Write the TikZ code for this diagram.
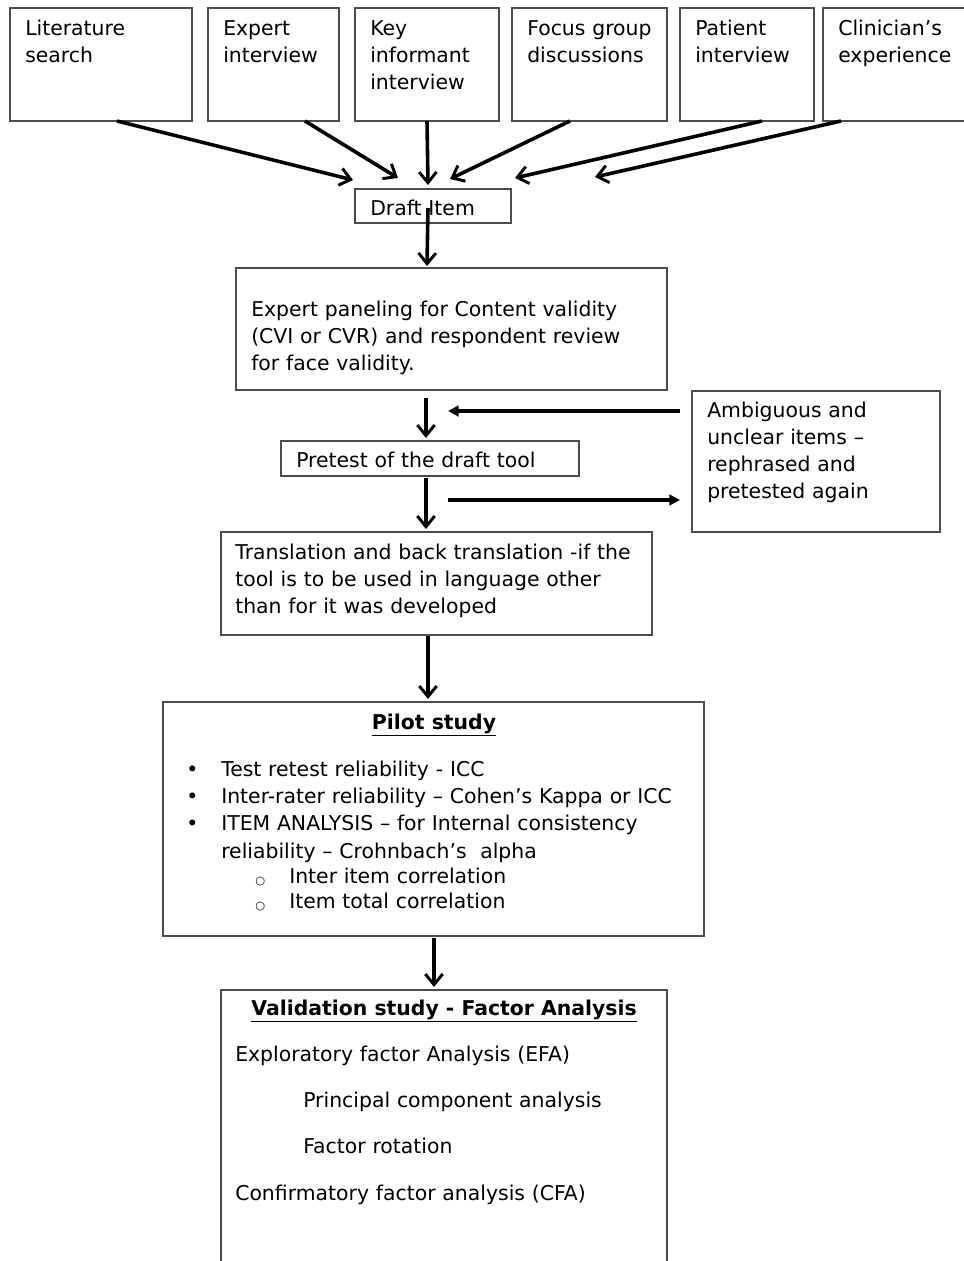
\documentclass[tikz,border=0pt]{standalone}
\usepackage{fontspec}
\setmainfont{DejaVu Sans}
\usetikzlibrary{arrows.meta,fit}
\begin{document}
\begin{tikzpicture}[x=0.75pt,y=-0.75pt,
  box/.style={draw=black!70, line width=0.8pt, inner sep=0pt},
  txt/.style={anchor=base west, inner sep=0pt, align=left, text width=#1,
              font=\fontsize{15.3}{20.25}\selectfont},
  txt/.default=500pt,
  ctxt/.style={anchor=base, inner sep=0pt, font=\fontsize{15.3}{20.25}\selectfont},
  subdot/.style={anchor=base west, inner sep=0pt, font=\fontsize{8.5}{9}\selectfont},
  flow/.style={line width=2.7pt, -{Straight Barb[length=8pt,width=13pt,line width=2.2pt]}},
  push/.style={line width=3pt, -{Triangle[length=8pt,width=8pt]}}
]
\useasboundingbox (0,0) rectangle (964,1261);
\clip (0,0) rectangle (964,1261);

% top source boxes
\node[box, fit={(10,8) (192,121)}] (lit) {};
\node[box, fit={(208,8) (339,121)}] (exp) {};
\node[box, fit={(355,8) (499,121)}] (key) {};
\node[box, fit={(512,8) (667,121)}] (foc) {};
\node[box, fit={(680,8) (814,121)}] (pat) {};
\node[box, fit={(823,8) (990,121)}] (cli) {};
\node[txt] (litT) at (25,35) {Literature\\search};
\node[txt] (expT) at (223,35) {Expert\\interview};
\node[txt] (keyT) at (370,35) {Key\\informant\\interview};
\node[txt] (focT) at (527,35) {Focus group\\discussions};
\node[txt] (patT) at (695,35) {Patient\\interview};
\node[txt] (cliT) at (838,35) {Clinician’s\\experience};

% draft item
\node[box, fit={(355,189) (511,223)}] (draft) {};
\node[txt] (draftT) at (370,215) {Draft Item};

% expert paneling
\node[box, fit={(236,268) (667,390)}] (panel) {};
\node[txt] (panelT) at (251,316) {Expert paneling for Content validity\\(CVI or CVR) and respondent review\\for face validity.};

% pretest
\node[box, fit={(281,441) (579,476)}] (pre) {};
\node[txt] (preT) at (296,467) {Pretest of the draft tool};

% ambiguous
\node[box, fit={(692,391) (940,532)}] (amb) {};
\node[txt] (ambT) at (707,417) {Ambiguous and\\unclear items –\\rephrased and\\pretested again};

% translation
\node[box, fit={(221,532) (652,635)}] (trans) {};
\node[txt] (transT) at (235,559) {Translation and back translation -if the\\tool is to be used in language other\\than for it was developed};

% pilot
\node[box, fit={(163,702) (704,936)}] (pilot) {};
\node[ctxt] (pilotT) at (434,729) {\underline{\textbf{Pilot study}}};
\node[txt] (b1) at (186,776) {•};
\node[txt] (b2) at (186,803) {•};
\node[txt] (b3) at (186,830) {•};
\node[txt] (p1) at (221,776) {Test retest reliability - ICC};
\node[txt] (p2) at (221,803) {Inter-rater reliability – Cohen’s Kappa or ICC};
\node[txt] (p3) at (221,830) {ITEM ANALYSIS – for Internal consistency};
\node[txt] (p4) at (221,858) {reliability – Crohnbach’s\ \ alpha};
\node[subdot] (c1) at (255,884) {○};
\node[subdot] (c2) at (255,909) {○};
\node[txt] (s1) at (289,883) {Inter item correlation};
\node[txt] (s2) at (289,908) {Item total correlation};

% validation
\node[box, fit={(221,990) (667,1290)}] (valid) {};
\node[ctxt] (validT) at (444,1015) {\underline{\textbf{Validation study - Factor Analysis}}};
\node[txt] (v1) at (235,1061) {Exploratory factor Analysis (EFA)};
\node[txt] (v2) at (303,1107) {Principal component analysis};
\node[txt] (v3) at (303,1153) {Factor rotation};
\node[txt] (v4) at (235,1200) {Confirmatory factor analysis (CFA)};

% connector end points
\coordinate (litS) at (117,121);  \coordinate (litE) at (353,180);
\coordinate (expS) at (305,121);  \coordinate (expE) at (398,178);
\coordinate (keyS) at (427,121);  \coordinate (keyE) at (428,185);
\coordinate (focS) at (570,121);  \coordinate (focE) at (450,179);
\coordinate (patS) at (762,121);  \coordinate (patE) at (515,178);
\coordinate (cliS) at (841,121);  \coordinate (cliE) at (595,177);
\coordinate (d1) at (428,208);    \coordinate (d2) at (427,266);
\coordinate (e1) at (426,398);    \coordinate (e2) at (426,438);
\coordinate (f1) at (426,478);    \coordinate (f2) at (426,529);
\coordinate (g1) at (428,636);    \coordinate (g2) at (428,699);
\coordinate (h1) at (434,938);    \coordinate (h2) at (434,987);
\coordinate (a1) at (680,411);    \coordinate (a2) at (448,411);
\coordinate (r1) at (448,500);    \coordinate (r2) at (680,500);

\draw[flow] (litS) -- (litE);
\draw[flow] (expS) -- (expE);
\draw[flow] (keyS) -- (keyE);
\draw[flow] (focS) -- (focE);
\draw[flow] (patS) -- (patE);
\draw[flow] (cliS) -- (cliE);
\draw[flow] (d1) -- (d2);
\draw[flow] (e1) -- (e2);
\draw[flow] (f1) -- (f2);
\draw[flow] (g1) -- (g2);
\draw[flow] (h1) -- (h2);
\draw[push] (a1) -- (a2);
\draw[push] (r1) -- (r2);
\end{tikzpicture}
\end{document}
